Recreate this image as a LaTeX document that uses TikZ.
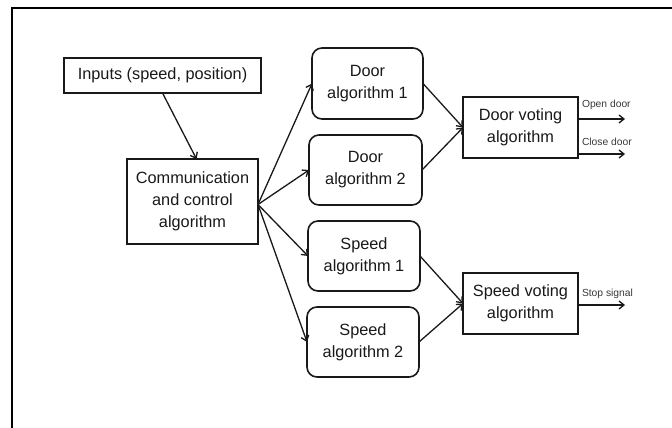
\documentclass[tikz,border=0pt]{standalone}
\usepackage{fontspec}
\setmainfont{Liberation Sans}
\usetikzlibrary{arrows.meta,calc}

\begin{document}
\begin{tikzpicture}[x=1pt,y=-1pt,
  every node/.style={inner sep=0pt,outer sep=0pt},
  txt/.style={font=\fontsize{16.3}{22}\selectfont,align=center,text=black!90},
  sqbox/.style={txt,draw=black!90,line width=1.6pt},
  rbox/.style={txt,draw=black!90,line width=1.6pt,rounded corners=10pt},
  lbl/.style={font=\fontsize{10.3}{12}\selectfont,text=black!78,anchor=west},
  arr/.style={draw=black!90,line width=1.3pt,-{Straight Barb[length=5pt,width=8pt,line width=1.3pt]}}]
  \useasboundingbox (0,0) rectangle (672,428);
  % frame edges
  \draw[line width=2.2pt] (672,8) -- (12,8) -- (12,428);

  % boxes
  \node[sqbox,minimum width=197pt,minimum height=35pt] (in) at (162.5,75.5) {Inputs (speed, position)};
  \node[sqbox,minimum width=131pt,minimum height=85pt] (comm) at (192.5,201.5) {Communication\\and control\\algorithm};
  \node[rbox,minimum width=111pt,minimum height=71pt] (d1) at (367.5,83.5) {Door\\algorithm 1};
  \node[rbox,minimum width=113pt,minimum height=70pt] (d2) at (365.5,170) {Door\\algorithm 2};
  \node[rbox,minimum width=112pt,minimum height=70pt] (s1) at (364,256) {Speed\\algorithm 1};
  \node[rbox,minimum width=112pt,minimum height=70pt] (s2) at (363,342) {Speed\\algorithm 2};
  \node[sqbox,minimum width=115pt,minimum height=61pt] (dv) at (520.5,127.5) {Door voting\\algorithm};
  \node[sqbox,minimum width=115pt,minimum height=61pt] (sv) at (520.5,303.5) {Speed voting\\algorithm};

  % connectors
  \coordinate (fan) at ([yshift=-3pt]comm.east);
  \draw[arr] (in.south) -- ([xshift=4pt]comm.north);
  \foreach \t in {d1,d2,s1,s2} \draw[arr] (fan) -- (\t.west);
  \draw[arr] (d1.east) -- (dv.west);
  \draw[arr] (d2.east) -- (dv.west);
  \draw[arr] (s1.east) -- (sv.west);
  \draw[arr] (s2.east) -- (sv.west);

  % outputs
  \coordinate (open) at (625,119);
  \coordinate (close) at (625,154);
  \coordinate (stop) at (625,305);
  \draw[arr] (dv.east |- open) -- (open);
  \draw[arr] (dv.east |- close) -- (close);
  \draw[arr] (sv.east |- stop) -- (stop);
  \node[lbl] (lo) at (582,105) {Open door};
  \node[lbl] (lc) at (582,142) {Close door};
  \node[lbl] (ls) at (582,294) {Stop signal};
\end{tikzpicture}
\end{document}
